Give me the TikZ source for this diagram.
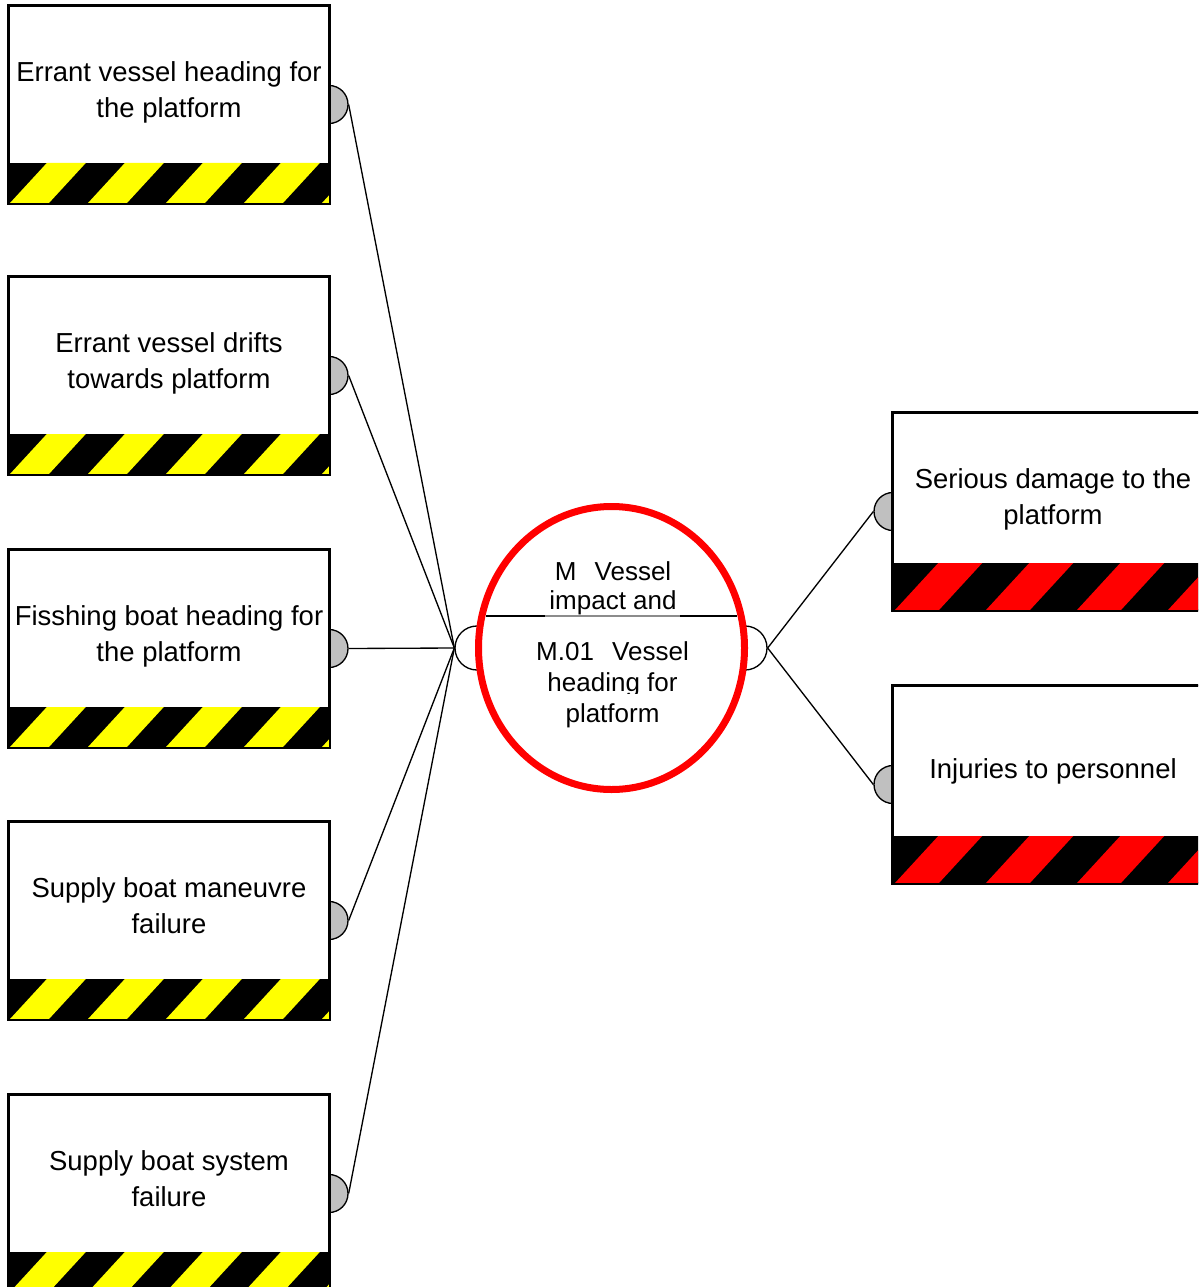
\documentclass[tikz,border=0pt]{standalone}
\usepackage{fontspec}
\setmainfont{Liberation Sans}
\usetikzlibrary{shapes.geometric}

\definecolor{hazardyellow}{RGB}{255,255,0}
\definecolor{hazardred}{RGB}{255,0,0}
\definecolor{portgray}{RGB}{192,192,192}

\tikzset{
  boxframe/.style={rectangle, draw=black, line width=1.2pt, fill=white,
    minimum width=240pt, minimum height=147.75pt, inner sep=0pt},
  boxlabel/.style={align=center, inner sep=0pt, font=\fontsize{20.6}{27}\selectfont},
  port/.style={circle, draw=black, line width=1pt, fill=portgray,
    minimum size=28.5pt, inner sep=0pt},
  hubport/.style={circle, draw=black, line width=1pt, fill=white,
    minimum size=33pt, inner sep=0pt},
  hubring/.style={ellipse, draw=hazardred, line width=5.25pt, fill=white,
    minimum width=199.5pt, minimum height=212.25pt, inner sep=0pt},
  link/.style={draw=black, line width=1pt},
}

% diagonal hazard band: left x, top y, right x, bottom y, colour, period, stripe width, offset
\newcommand\hazardband[8]{%
  \begin{scope}
    \clip (#1,#2) rectangle (#3,#4);
    \fill[black] (#1,#2) rectangle (#3,#4);
    \foreach \k in {-1,...,5}
      \fill[#5] ({#1+#8+\k*#6},{#4}) -- ++(#7,0)
        -- ++({0.92*((#4)-(#2))},{-((#4)-(#2))}) -- ++(-#7,0) -- cycle;
  \end{scope}}

% threat box on the left: name, top y, text
\newcommand\threatbox[3]{%
  \node[boxframe] (#1) at (169,#2+98.5) {};
  \hazardband{9}{#2+157}{329}{#2+197}{hazardyellow}{78}{39}{1}
  \draw[line width=1.2pt] (#1.north west) rectangle (#1.south east);
  \node[boxlabel] (#1text) at (169,#2+86) {#3};}

% consequence box on the right: name, top y, text, text centre offset
\newcommand\consequencebox[4]{%
  \node[boxframe] (#1) at (1053,#2+98.5) {};
  \hazardband{893}{#2+150}{1213}{#2+197}{hazardred}{91}{44}{2}
  \draw[line width=1.2pt] (#1.north west) rectangle (#1.south east);
  \node[boxlabel] (#1text) at (1053,#2+#4) {#3};}

\begin{document}
\begin{tikzpicture}[x=0.75pt, y=-0.75pt]
  \useasboundingbox (0,0) rectangle (1198,1287);
  \clip (0,0) rectangle (1198,1287);

  % ports of the threat and consequence boxes
  \node[port] (p1) at (329,104.5) {};
  \node[port] (p2) at (329,375.5) {};
  \node[port] (p3) at (329,648.5) {};
  \node[port] (p4) at (329,920.5) {};
  \node[port] (p5) at (329,1193.5) {};
  \node[port] (q1) at (893,511.5) {};
  \node[port] (q2) at (893,784.5) {};

  % ports of the central event
  \node[hubport] (hubL) at (477,648) {};
  \node[hubport] (hubR) at (745,648) {};

  % connectors
  \foreach \p in {p1,p2,p3,p4,p5}
    \draw[link] (\p.east) -- (hubL.west);
  \foreach \q in {q1,q2}
    \draw[link] (hubR.east) -- (\q.west);

  % threats
  \threatbox{t1}{6}{\strut Errant vessel heading for\\\strut the platform}
  \threatbox{t2}{277}{\strut Errant vessel drifts\\\strut towards platform}
  \threatbox{t3}{550}{\strut Fisshing boat heading for\\\strut the platform}
  \threatbox{t4}{822}{\strut Supply boat maneuvre\\\strut failure}
  \threatbox{t5}{1095}{\strut Supply boat system\\\strut failure}

  % consequences
  \consequencebox{c1}{413}{\strut Serious damage to the\\\strut platform}{86}
  \consequencebox{c2}{686}{\strut Injuries to personnel}{85}

  % central event
  \node[hubring] (hub) at (611.5,648) {};
  \draw[line width=1pt] (486,616) -- (545,616);
  \draw[line width=1pt, black!45] (545,616) -- (680,616);
  \draw[line width=1pt] (680,616) -- (737,616);
  \begin{scope}
    \clip (480,520) rectangle (745,616);
    \node[align=center, inner sep=0pt, font=\fontsize{19.5}{21.75}\selectfont]
      (hubtop) at (613,588.7) {\strut M\hspace{0.7em}Vessel\\\strut impact and};
  \end{scope}
  \node[align=center, inner sep=0pt, font=\fontsize{19.5}{23.6}\selectfont]
    (hubbottom) at (612.5,685.2)
    {\strut M.01\hspace{0.7em}Vessel\\\strut heading for\\\strut platform};
  \fill[white] (540,693.5) rectangle (690,701.5);
\end{tikzpicture}
\end{document}
